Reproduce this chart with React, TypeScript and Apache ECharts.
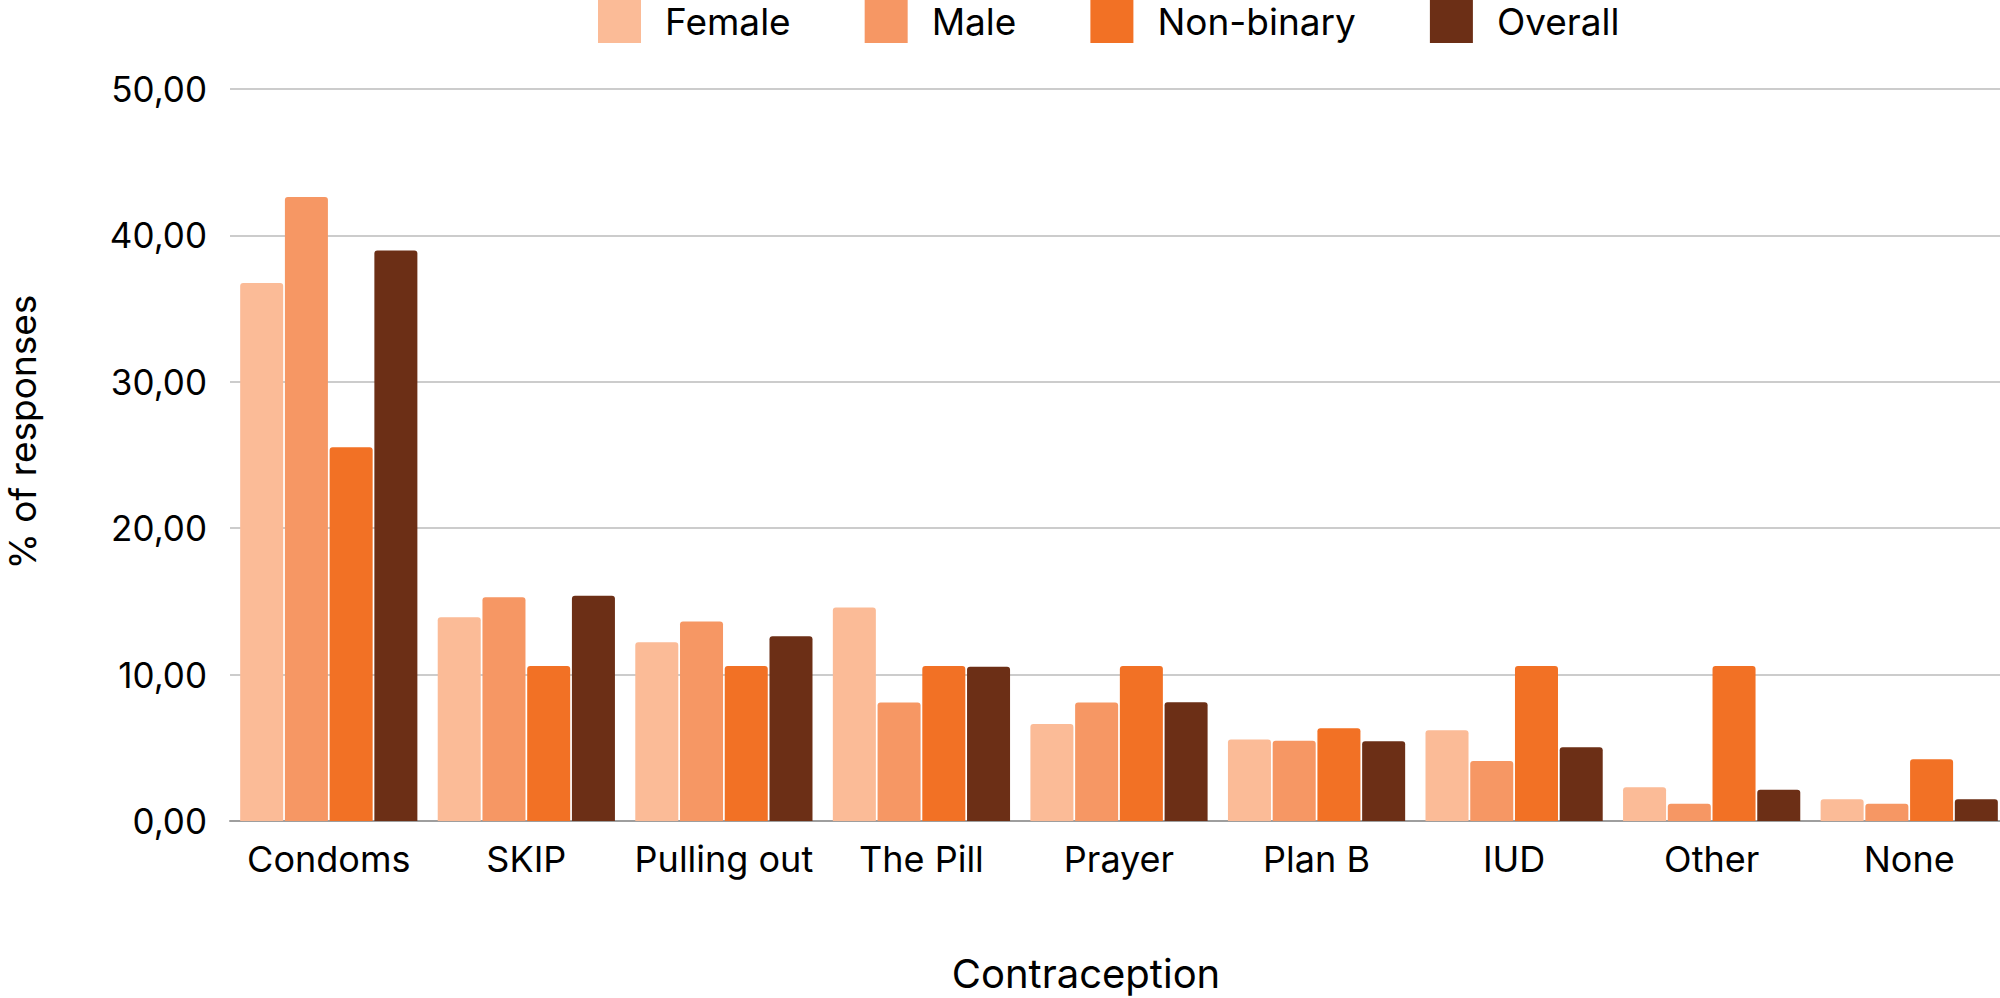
import React, { useEffect, useRef } from "react";
import * as echarts from "echarts";

const categories = ["Condoms", "SKIP", "Pulling out", "The Pill", "Prayer", "Plan B", "IUD", "Other", "None"];
const female = [36.75, 13.92, 12.21, 14.58, 6.63, 5.56, 6.2, 2.3, 1.48];
const male = [42.62, 15.29, 13.62, 8.09, 8.09, 5.49, 4.1, 1.18, 1.18];
const nonBinary = [25.53, 10.59, 10.59, 10.59, 10.59, 6.33, 10.59, 10.59, 4.21];
const overall = [38.97, 15.38, 12.62, 10.53, 8.11, 5.44, 5.03, 2.14, 1.48];
const seriesNames = ["Female", "Male", "Non-binary", "Overall"];
const seriesColors = ["#FBBB97", "#F69764", "#F27125", "#6C2F16"];
const yTicks = { min: 0, max: 50, interval: 10 };

export default function App() {
  const ref = useRef<HTMLDivElement>(null);
  useEffect(() => {
    document.body.style.margin = "0";
    document.body.style.overflow = "hidden";
    const chart = echarts.init(ref.current!, undefined, { renderer: "svg" });
    const font = "Inter";
    const data = [female, male, nonBinary, overall];
    chart.setOption({
      animation: false,
      textStyle: { fontFamily: font },
      legend: {
        top: 0,
        left: 598,
        padding: 0,
        itemWidth: 43,
        itemHeight: 43,
        itemGap: 74,
        icon: "rect",
        itemStyle: { borderRadius: 3 },
        textStyle: { fontFamily: font, fontSize: 37, color: "#000", padding: [0, 0, 0, 19] },
        data: seriesNames,
      },
      grid: { left: 230, top: 89, width: 1778, height: 732 },
      xAxis: {
        type: "category",
        data: categories,
        axisTick: { show: false },
        axisLine: { show: true, lineStyle: { color: "#9e9e9e", width: 2 } },
        axisLabel: { fontFamily: font, fontSize: 36, color: "#000", margin: 20, interval: 0 },
      },
      yAxis: {
        type: "value",
        min: yTicks.min,
        max: yTicks.max,
        interval: yTicks.interval,
        axisLine: { show: false },
        axisTick: { show: false },
        splitLine: { lineStyle: { color: "#cccccc", width: 2 } },
        axisLabel: {
          fontFamily: font,
          fontSize: 35,
          color: "#000",
          margin: 23,
          formatter: (v: number) => v.toFixed(2).replace(".", ","),
        },
      },
      graphic: [
        {
          type: "text",
          x: 22,
          y: 432,
          rotation: Math.PI / 2,
          style: {
            text: "% of responses",
            fontFamily: font,
            fontSize: 37,
            fill: "#000",
            align: "center",
            verticalAlign: "middle",
          },
        },
        {
          type: "text",
          x: 1086,
          y: 973,
          style: {
            text: "Contraception",
            fontFamily: font,
            fontSize: 40,
            fill: "#000",
            align: "center",
            verticalAlign: "middle",
          },
        },
      ],
      series: seriesNames.map((name, i) => ({
        name,
        type: "bar",
        data: data[i],
        barCategoryGap: "10.3%",
        barGap: "4%",
        itemStyle: { color: seriesColors[i], borderRadius: [3, 3, 0, 0] },
      })),
    });
    return () => chart.dispose();
  }, []);
  return <div ref={ref} style={{ width: 2010, height: 998 }} />;
}
